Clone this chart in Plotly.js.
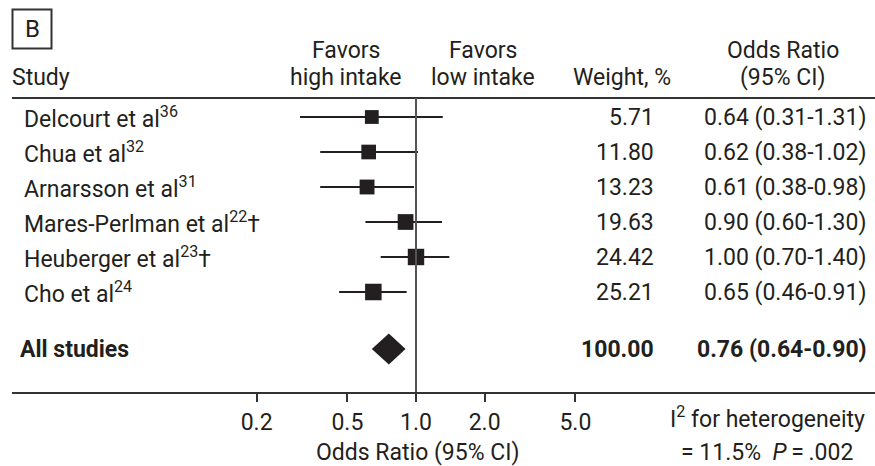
<!DOCTYPE html>
<html>
<head>
<meta charset="utf-8">
<script src="https://cdn.plot.ly/plotly-3.0.1.min.js"></script>
<style>
  html, body { margin: 0; padding: 0; background: #fff; }
  #chart { width: 875px; height: 466px; }
</style>
</head>
<body>
<div id="chart"></div>
<script>
// ---- data ----
const studies = ["Delcourt et al<sup>36</sup>", "Chua et al<sup>32</sup>", "Arnarsson et al<sup>31</sup>",
                 "Mares-Perlman et al<sup>22</sup>†", "Heuberger et al<sup>23</sup>†", "Cho et al<sup>24</sup>"];
const weights = [5.71, 11.80, 13.23, 19.63, 24.42, 25.21];
const orVals  = [0.64, 0.62, 0.61, 0.90, 1.00, 0.65];
const ciLow   = [0.31, 0.38, 0.38, 0.60, 0.70, 0.46];
const ciHigh  = [1.31, 1.02, 0.98, 1.30, 1.40, 0.91];
const pooledLabel = "All studies";
const pooledWeight = 100.00;
const pooledOR = 0.76, pooledLow = 0.64, pooledHigh = 0.90;
const tickVals = [0.2, 0.5, 1.0, 2.0, 5.0];
const tickText = ["0.2", "0.5", "1.0", "2.0", "5.0"];

(function () {
// ---- layout geometry (pixels) ----
const W = 875, H = 466;
const plotTop = 98, plotBottom = 392;            // plot area (header rule to axis line)
const rowStep = 35, firstRow = 117;
const pooledRow = (349 - firstRow) / rowStep;
const yTop = (plotTop - firstRow) / rowStep, yBot = (plotBottom - firstRow) / rowStep;
const pxPerDecade = 228, xOne = 416, xLeft = 12;
const r0 = -(xOne - xLeft) / pxPerDecade, r1 = r0 + (W - xLeft) / pxPerDecade;
const px = p => p / W;
const py = p => (plotBottom - p) / (plotBottom - plotTop);

const ink = "#231f20";
const FONT = "Roboto, Liberation Sans, Arial, sans-serif";
const fs = 23;

const rows = studies.map((_, i) => i);

const traces = [
  {
    type: "scatter", mode: "markers",
    x: orVals, y: rows,
    marker: { symbol: "square", color: ink, opacity: 1, line: { width: 0 },
              size: weights.map(w => 13 + w * 0.14) },
    error_x: { type: "data", symmetric: false,
               array: orVals.map((v, i) => ciHigh[i] - v),
               arrayminus: orVals.map((v, i) => v - ciLow[i]),
               color: ink, thickness: 2, width: 0 },
    hoverinfo: "skip", showlegend: false
  },
  {
    type: "scatter", mode: "lines",
    x: [pooledLow, pooledOR, pooledHigh, pooledOR, pooledLow],
    y: [pooledRow, pooledRow - 0.44, pooledRow, pooledRow + 0.44, pooledRow],
    fill: "toself", fillcolor: ink, line: { width: 0, color: ink },
    hoverinfo: "skip", showlegend: false
  }
];

const ann = [];
const txt = (text, x, y, xanchor, opts = {}) => ann.push(Object.assign({
  text, x, y, xref: "paper", yref: "paper", xanchor, yanchor: "middle",
  showarrow: false, font: { family: FONT, size: fs, color: ink }
}, opts));
const rowTxt = (text, x, row, xanchor, bold) => ann.push({
  text: bold ? "<b>" + text + "</b>" : text, x, y: row, xref: "paper", yref: "y",
  xanchor, yanchor: "middle", showarrow: false,
  font: { family: FONT, size: fs, color: ink }
});

// headers
txt("B", px(32), py(29), "center", { font: { family: FONT, size: 24, color: ink } });
txt("Study", px(10), py(77), "left");
txt("Favors", px(346), py(50), "center");
txt("high intake", px(346), py(77), "center");
txt("Favors", px(483), py(50), "center");
txt("low intake", px(483), py(77), "center");
txt("Weight, %", px(673), py(77), "right");
txt("Odds Ratio", px(783), py(50), "center");
txt("(95% CI)", px(783), py(77), "center");

// study rows
studies.forEach((s, i) => {
  rowTxt(s, px(22), i, "left");
  rowTxt(weights[i].toFixed(2), px(656), i, "right");
  rowTxt(orVals[i].toFixed(2) + " (" + ciLow[i].toFixed(2) + "-" + ciHigh[i].toFixed(2) + ")", px(868), i, "right");
});
rowTxt(pooledLabel, px(18), pooledRow, "left", true);
rowTxt(pooledWeight.toFixed(2), px(656), pooledRow, "right", true);
rowTxt(pooledOR.toFixed(2) + " (" + pooledLow.toFixed(2) + "-" + pooledHigh.toFixed(2) + ")", px(869), pooledRow, "right", true);

// footer
txt("Odds Ratio (95% CI)", px(417), py(453), "center");
txt("I<sup>2</sup> for heterogeneity", px(767), py(417), "center");
txt("= 11.5%  <i>P</i>\u2009=\u2009.002", px(767), py(453), "center");

const layout = {
  width: W, height: H,
  margin: { l: 0, r: 0, t: plotTop, b: H - plotBottom, pad: 0 },
  paper_bgcolor: "#fff", plot_bgcolor: "#fff",
  showlegend: false,
  xaxis: {
    type: "log", range: [r0, r1], domain: [xLeft / W, 1],
    showgrid: false, zeroline: false,
    showline: true, linecolor: "#333", linewidth: 2,
    ticks: "outside", ticklen: 8, tickwidth: 2, tickcolor: "#333",
    tickvals: tickVals, ticktext: tickText,
    tickfont: { family: FONT, size: fs, color: ink },
    fixedrange: true
  },
  yaxis: {
    range: [yBot, yTop], showgrid: false, zeroline: false,
    showticklabels: false, showline: false, fixedrange: true
  },
  shapes: [
    { type: "line", xref: "paper", yref: "paper", x0: px(12), x1: 1, y0: 1, y1: 1,
      line: { color: "#333", width: 2 } },
    { type: "line", xref: "x", yref: "paper", x0: 1, x1: 1, y0: 0, y1: 1,
      line: { color: "#555", width: 2 } },
    { type: "rect", xref: "paper", yref: "paper", x0: px(12.5), x1: px(51.5), y0: py(9.5), y1: py(48.5),
      line: { color: "#333", width: 2 } }
  ],
  annotations: ann
};

Plotly.newPlot("chart", traces, layout, { displayModeBar: false, staticPlot: true });
})();
</script>
</body>
</html>
